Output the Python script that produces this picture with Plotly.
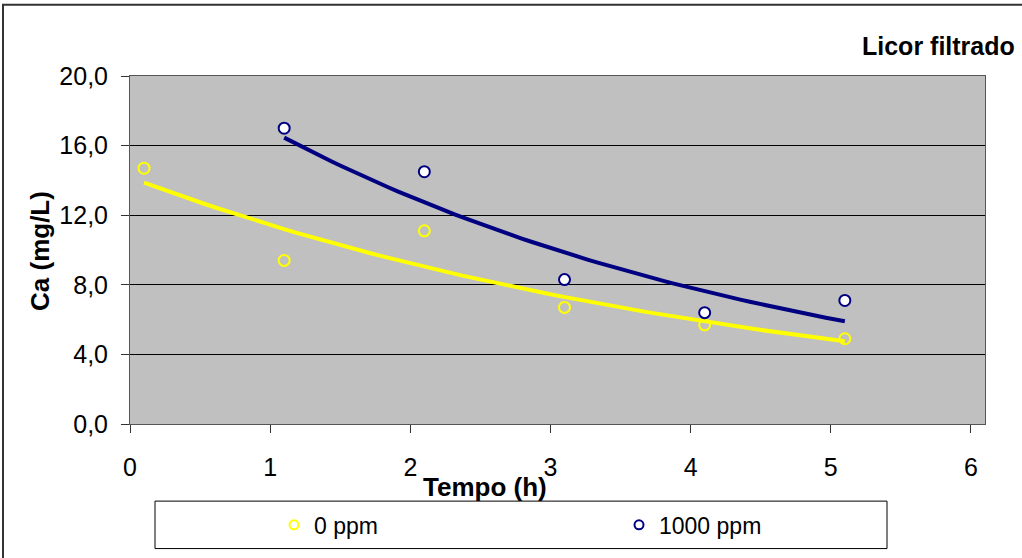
import numpy as np
import plotly.graph_objects as go

# Measured calcium in the filtered liquor
tempo_0 = [0.1, 1.1, 2.1, 3.1, 4.1, 5.1]
ca_0 = [14.7, 9.4, 11.1, 6.7, 5.7, 4.9]
tempo_1000 = [1.1, 2.1, 3.1, 4.1, 5.1]
ca_1000 = [17.0, 14.5, 8.3, 6.4, 7.1]

YELLOW = "#FFFF00"
NAVY = "#000080"
FONT = "Liberation Sans, Arial, sans-serif"


def exp_trend(x, y, n=60):
    """Exponential least-squares trendline y = a*exp(b*x)."""
    b, ln_a = np.polyfit(np.asarray(x, float), np.log(np.asarray(y, float)), 1)
    xs = np.linspace(min(x), max(x), n)
    return xs, np.exp(ln_a) * np.exp(b * xs)


fig = go.Figure()

tx, ty = exp_trend(tempo_0, ca_0)
fig.add_trace(go.Scatter(x=tx, y=ty, mode="lines", line=dict(color=YELLOW, width=4),
                         showlegend=False, hoverinfo="skip"))
tx, ty = exp_trend(tempo_1000, ca_1000)
fig.add_trace(go.Scatter(x=tx, y=ty, mode="lines", line=dict(color=NAVY, width=4),
                         showlegend=False, hoverinfo="skip"))

fig.add_trace(go.Scatter(x=tempo_0, y=ca_0, mode="markers", showlegend=False,
                         marker=dict(symbol="circle-open", size=11, color=YELLOW,
                                     line=dict(color=YELLOW, width=2))))
fig.add_trace(go.Scatter(x=tempo_1000, y=ca_1000, mode="markers", showlegend=False,
                         marker=dict(symbol="circle", size=11, color="white",
                                     line=dict(color=NAVY, width=2))))

# legend entries with the smaller key symbols
fig.add_trace(go.Scatter(x=[None], y=[None], mode="markers", name="0 ppm",
                         marker=dict(symbol="circle-open", size=9, color=YELLOW,
                                     line=dict(color=YELLOW, width=2))))
fig.add_trace(go.Scatter(x=[None], y=[None], mode="markers", name="1000 ppm",
                         marker=dict(symbol="circle-open", size=9, color=NAVY,
                                     line=dict(color=NAVY, width=2))))

W, H = 1022, 558
L, R, T, B = 130, 37, 76, 130
pw, ph = W - L - R, H - T - B


def px(x):
    return (x - L) / pw


def py(y):
    return (H - B - y) / ph


fig.update_layout(
    width=W, height=H,
    margin=dict(l=L, r=R, t=T, b=B),
    paper_bgcolor="white",
    plot_bgcolor="#C0C0C0",
    separators=",.",
    font=dict(family=FONT, size=25, color="black"),
    xaxis=dict(range=[0, 6.1], tickvals=[0, 1, 2, 3, 4, 5, 6], showgrid=False,
               zeroline=False, showline=True, linecolor="#555555", linewidth=1,
               mirror=True, ticks="outside", ticklen=8, tickcolor="#333333",
               ticklabelstandoff=13, tickfont=dict(size=25)),
    yaxis=dict(range=[0, 20], dtick=4, tick0=0, tickformat=".1f",
               showgrid=True, gridcolor="black", gridwidth=1, zeroline=False,
               showline=True, linecolor="#555555", linewidth=1, mirror=True,
               ticks="outside", ticklen=8, tickcolor="#333333",
               ticklabelstandoff=8, tickfont=dict(size=25)),
    legend=dict(orientation="h", x=px(274), xanchor="left", y=py(530), yanchor="middle",
                bgcolor="rgba(0,0,0,0)", borderwidth=0, entrywidth=300,
                entrywidthmode="pixels", font=dict(size=23)),
    annotations=[
        dict(text="<b>Licor filtrado</b>", xref="paper", yref="paper",
             x=px(1017), y=py(46), xanchor="right", yanchor="middle",
             showarrow=False, font=dict(size=25)),
        dict(text="<b>Tempo (h)</b>", xref="paper", yref="paper",
             x=px(485), y=py(492), xanchor="center", yanchor="middle",
             showarrow=False, font=dict(size=26)),
        dict(text="<b>Ca (mg/L)</b>", xref="paper", yref="paper",
             x=px(40), y=py(253), xanchor="center", yanchor="middle",
             textangle=-90, showarrow=False, font=dict(size=26)),
    ],
    shapes=[
        # outer chart frame
        dict(type="rect", xref="paper", yref="paper", x0=px(3), y0=py(570),
             x1=px(1040), y1=py(4), line=dict(color="#333333", width=2),
             fillcolor="rgba(0,0,0,0)", layer="below"),
        # legend box
        dict(type="rect", xref="paper", yref="paper", x0=px(155), y0=py(554),
             x1=px(887), y1=py(506), line=dict(color="black", width=1),
             fillcolor="white", layer="below"),
    ],
)

fig.write_html("out.html")
